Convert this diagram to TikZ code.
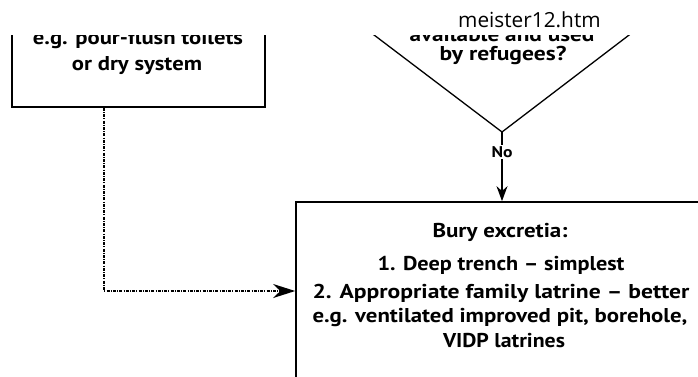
\documentclass[tikz,border=0pt]{standalone}
\usepackage{fontspec}
\setmainfont{PT Sans}
\newfontfamily\capfont{Open Sans}
\usetikzlibrary{arrows.meta}
% set a line of text to a given width, keeping its height
\newcommand{\linew}[2]{\resizebox{#1}{\height}{#2}}
\tikzset{
  x=1pt, y=-1pt,
  boxline/.style={draw, line width=1.7pt},
  flowline/.style={line width=1.3pt},
  txt/.style={anchor=base, inner sep=0pt, font=\fontsize{20}{24}\selectfont\bfseries},
  weakline/.style={line width=1.6pt, dash pattern=on 3pt off 1.2pt on 1pt off 1.2pt},
}
\begin{document}
\begin{tikzpicture}
\useasboundingbox (0,0) rectangle (698,376);

% page label above the cut-off figure
\node[anchor=base west, inner sep=0pt, font=\capfont\fontsize{20.8}{24}\selectfont] (label) at (458,27) {meister12.htm};

\begin{scope}
\clip (0,35) rectangle (698,376);

% option box (upper left)
\node[boxline, minimum width=253pt, minimum height=127pt, inner sep=0pt] (toilets) at (138.5,43.5) {};
\node[txt] (t1) at (138,44) {\linew{210pt}{e.g. pour-flush toilets}};
\node[txt] (t2) at (137,70) {\linew{130pt}{or dry system}};

% decision triangle
\coordinate (apex) at (502,132);
\draw[flowline] (349,16) -- (apex) -- (654,16);
\node[txt] (q1) at (502,41) {\linew{185pt}{available and used}};
\node[txt] (q2) at (503,60) {\linew{127pt}{by refugees?}};

% result box (lower right)
\node[boxline, minimum width=424pt, minimum height=178pt, inner sep=0pt] (bury) at (508,291) {};
\node[txt] (b1) at (500,237) {\linew{135pt}{Bury excretia:}};
\node[txt] (b2) at (501,270) {\linew{247pt}{1. Deep trench – simplest}};
\node[txt] (b3) at (501,298) {\linew{377pt}{2. Appropriate family latrine – better}};
\node[txt] (b4) at (500,322) {\linew{375pt}{e.g. ventilated improved pit, borehole,}};
\node[txt] (b5) at (504,347) {\linew{122pt}{VIDP latrines}};

% "No" branch
\node[inner sep=1pt, font=\fontsize{15.5}{18}\selectfont\bfseries] (no) at (502,152) {\linew{21pt}{No}};
\draw[flowline] (apex) -- (no.north);
\draw[line width=1.6pt, -{Stealth[length=15pt, width=11pt]}] (no.south) -- (bury.north -| apex);

% dotted link from the option box
\draw[weakline, -{Stealth[length=22pt, width=14pt]}] ([xshift=93pt]toilets.south west) |- (bury.west);
\end{scope}
\end{tikzpicture}
\end{document}
